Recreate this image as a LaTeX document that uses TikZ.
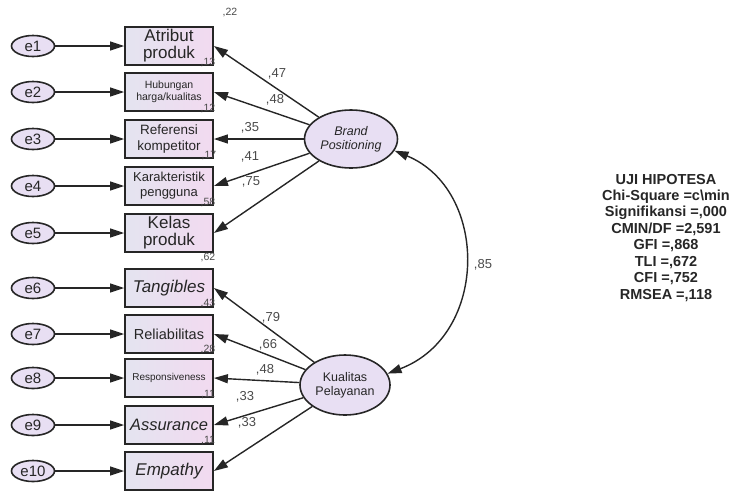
\documentclass[tikz,border=0pt]{standalone}
\usepackage{fontspec}
\setmainfont{Liberation Sans}
\usetikzlibrary{arrows.meta,shapes.geometric}
\definecolor{ink}{HTML}{262626}
\definecolor{boxL}{HTML}{E4E4F0}
\definecolor{boxR}{HTML}{F2DAF0}
\definecolor{ovalfill}{HTML}{E8DFF3}
\definecolor{numgray}{HTML}{4A4A4A}
\tikzset{
  obs/.style={draw=ink, line width=1.8pt, minimum width=88pt, minimum height=38pt,
    inner sep=0pt, align=center, left color=boxL, right color=boxR, text=ink},
  err/.style={draw=ink, line width=1.6pt, ellipse, minimum width=43pt, minimum height=21pt,
    inner sep=0pt, fill=ovalfill, text=ink, font=\fontsize{15}{15}\selectfont},
  latent/.style={draw=ink, line width=1.6pt, ellipse, inner sep=0pt, fill=ovalfill,
    text=ink, align=center},
  path/.style={draw=ink, line width=1.4pt, -{Triangle[length=14pt,width=9pt]}},
  corr/.style={draw=ink, line width=1.4pt,
    {Triangle[length=14pt,width=9pt]}-{Triangle[length=14pt,width=9pt]}},
  coef/.style={text=numgray, font=\fontsize{13}{13}\selectfont, inner sep=0pt},
  rsq/.style={text=numgray, font=\fontsize{10.5}{10.5}\selectfont, inner sep=0pt},
  stat/.style={text=ink, font=\bfseries\fontsize{14.5}{14.5}\selectfont, inner sep=0pt}
}
\begin{document}
\begin{tikzpicture}[x=1pt, y=-1pt]
\useasboundingbox (0,0) rectangle (751,491);

% observed indicators
\node[obs, font=\fontsize{17}{17}\selectfont] (b1) at (169,46) {Atribut\\produk};
\node[obs, font=\fontsize{10.5}{12}\selectfont] (b2) at (169,92) {Hubungan\\harga/kualitas};
\node[obs, font=\fontsize{13.5}{15.5}\selectfont] (b3) at (169,139) {Referensi\\kompetitor};
\node[obs, font=\fontsize{13}{15}\selectfont] (b4) at (169,186) {Karakteristik\\pengguna};
\node[obs, font=\fontsize{17}{17}\selectfont] (b5) at (169,233) {Kelas\\produk};
\node[obs, font=\itshape\fontsize{17}{17}\selectfont] (b6) at (169,288) {Tangibles};
\node[obs, font=\fontsize{14.5}{15}\selectfont] (b7) at (169,334) {Reliabilitas};
\node[obs, font=\fontsize{10}{10}\selectfont] (b8) at (169,378) {Responsiveness};
\node[obs, font=\itshape\fontsize{16.5}{17}\selectfont] (b9) at (169,425) {Assurance};
\node[obs, font=\itshape\fontsize{17}{17}\selectfont] (b10) at (169,471) {Empathy};

% error terms
\foreach \i/\yy in {1/46,2/92,3/139,4/186,5/233,6/288,7/334,8/378,9/425,10/471}{
  \node[err] (e\i) at (33,\yy) {e\i};
  \draw[path] (e\i) -- (b\i.west);
}

% latent variables
\node[latent, minimum width=93pt, minimum height=58pt,
  font=\itshape\fontsize{12.5}{14}\selectfont] (bp) at (351,139) {Brand\\Positioning};
\node[latent, minimum width=90pt, minimum height=60pt,
  font=\fontsize{12.5}{14}\selectfont] (kp) at (345,385) {Kualitas\\Pelayanan};

% loadings
\foreach \i in {1,...,5}{ \draw[path] (bp) -- (b\i.east); }
\foreach \i in {6,...,10}{ \draw[path] (kp) -- (b\i.east); }

% covariance between latents
\draw[corr] (bp.-15) .. controls (489,190) and (489,335) .. (kp.15);
\node[coef] (c85) at (483,265) {,85};

% loading estimates
\node[coef] (l1) at (277,74) {,47};
\node[coef] (l2) at (275,100) {,48};
\node[coef] (l3) at (250,128) {,35};
\node[coef] (l4) at (250,157) {,41};
\node[coef] (l5) at (251,182) {,75};
\node[coef] (l6) at (271,318) {,79};
\node[coef] (l7) at (268,345) {,66};
\node[coef] (l8) at (265,370) {,48};
\node[coef] (l9) at (245,397) {,33};
\node[coef] (l10) at (247,423) {,33};

% squared multiple correlations
\node[rsq] (r1) at (230,13) {,22};
\node[rsq] (r2) at (208,63) {,13};
\node[rsq] (r3) at (208,108) {,12};
\node[rsq] (r4) at (209,156) {,17};
\node[rsq] (r5) at (208,202) {,58};
\node[rsq] (r6) at (208,257) {,62};
\node[rsq] (r7) at (208,303) {,43};
\node[rsq] (r8) at (208,349) {,28};
\node[rsq] (r9) at (208,395) {,11};
\node[rsq] (r10) at (208,441) {,11};

% fit summary
\node[stat] (s1) at (666,180) {UJI HIPOTESA};
\node[stat] (s2) at (666,196.5) {Chi-Square =c\textbackslash min};
\node[stat] (s3) at (666,213) {Signifikansi =,000};
\node[stat] (s4) at (666,229.5) {CMIN/DF =2,591};
\node[stat] (s5) at (666,246) {GFI =,868};
\node[stat] (s6) at (666,262.5) {TLI =,672};
\node[stat] (s7) at (666,279) {CFI =,752};
\node[stat] (s8) at (666,295.5) {RMSEA =,118};
\end{tikzpicture}
\end{document}
